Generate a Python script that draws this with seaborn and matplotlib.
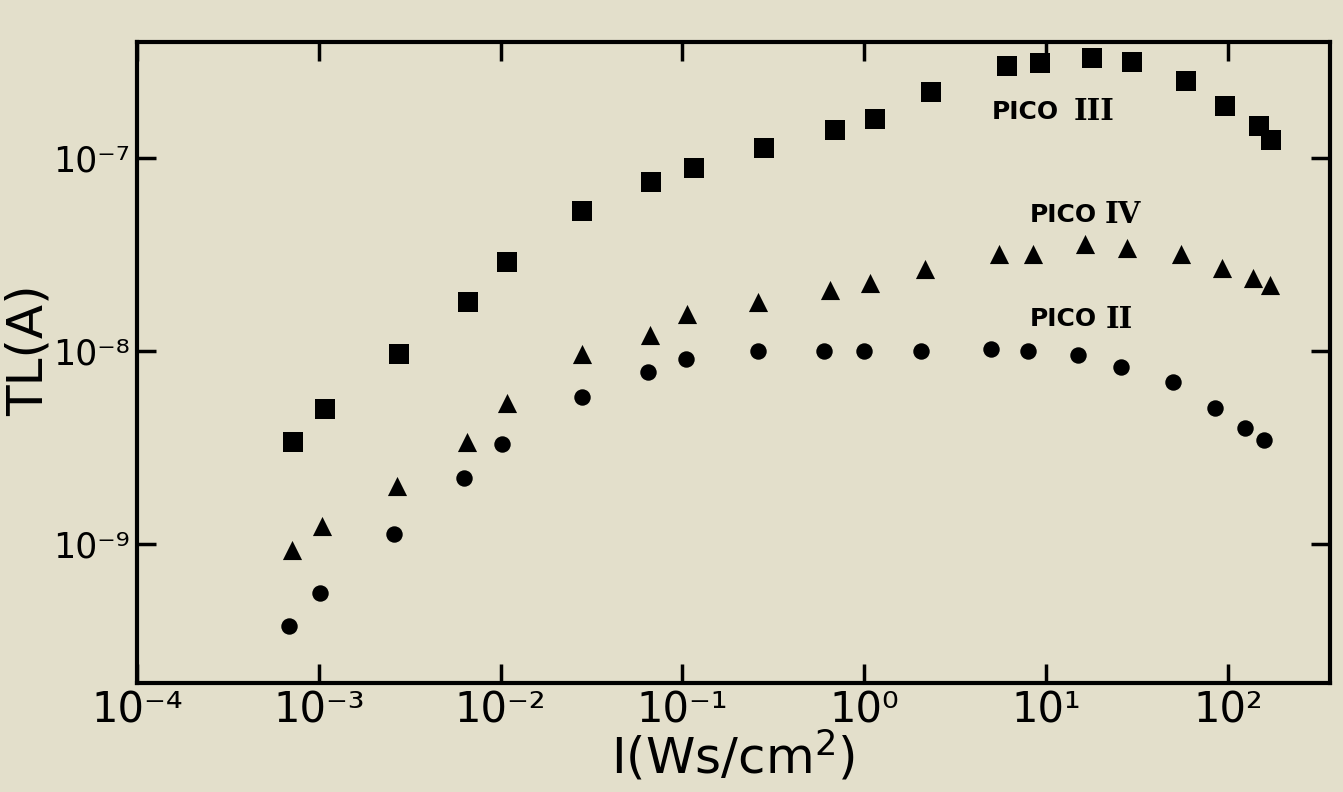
import matplotlib
matplotlib.use("Agg")
import matplotlib.pyplot as plt
import matplotlib.ticker as mticker
import seaborn as sns
import pandas as pd

# irradiance I (Ws/cm2) and TL current (A)
pico3_x = [7.2e-4, 1.08e-3, 2.76e-3, 6.6e-3, 1.09e-2, 2.8e-2, 6.7e-2, 0.116, 0.28, 0.69,
           1.15, 2.33, 6.1, 9.3, 17.9, 29.9, 59, 96, 149, 173]
pico3_y = [3.4e-9, 5.0e-9, 9.7e-9, 1.8e-8, 2.9e-8, 5.3e-8, 7.5e-8, 8.9e-8, 1.13e-7, 1.40e-7,
           1.59e-7, 2.2e-7, 3.0e-7, 3.1e-7, 3.3e-7, 3.15e-7, 2.5e-7, 1.86e-7, 1.46e-7, 1.24e-7]

pico4_x = [7.1e-4, 1.04e-3, 2.7e-3, 6.5e-3, 1.08e-2, 2.8e-2, 6.6e-2, 0.106, 0.26, 0.65,
           1.08, 2.15, 5.5, 8.5, 16.3, 28, 55, 93, 138, 170]
pico4_y = [9.3e-10, 1.24e-9, 2.0e-9, 3.4e-9, 5.4e-9, 9.7e-9, 1.21e-8, 1.55e-8, 1.8e-8, 2.07e-8,
           2.25e-8, 2.66e-8, 3.2e-8, 3.2e-8, 3.6e-8, 3.4e-8, 3.2e-8, 2.7e-8, 2.4e-8, 2.2e-8]

pico2_x = [6.9e-4, 1.01e-3, 2.6e-3, 6.3e-3, 1.02e-2, 2.8e-2, 6.5e-2, 0.105, 0.26, 0.6,
           1.0, 2.05, 5.0, 8.0, 15, 26, 50, 85, 125, 158]
pico2_y = [3.8e-10, 5.6e-10, 1.13e-9, 2.2e-9, 3.3e-9, 5.8e-9, 7.8e-9, 9.1e-9, 1.0e-8, 1.0e-8,
           1.0e-8, 1.0e-8, 1.03e-8, 1.0e-8, 9.5e-9, 8.3e-9, 6.9e-9, 5.1e-9, 4.0e-9, 3.45e-9]

x_ticks = [1e-4, 1e-3, 1e-2, 1e-1, 1, 10, 100]
x_ticklabels = ["10⁻⁴", "10⁻³", "10⁻²", "10⁻¹", "10⁰", "10¹", "10²"]
y_ticks = [1e-9, 1e-8, 1e-7]
y_ticklabels = ["10⁻⁹", "10⁻⁸", "10⁻⁷"]

paper = "#e3dfcb"

sns.set_style("ticks")
plt.rcParams['font.family'] = ['DejaVu Sans']
plt.rcParams['mathtext.fontset'] = 'dejavusans'

fig = plt.figure(figsize=(13.43, 7.92), dpi=100, facecolor=paper)
ax = fig.add_axes([0.102, 0.137, 0.888, 0.810])
ax.set_facecolor(paper)

df3 = pd.DataFrame({"I": pico3_x, "TL": pico3_y})
df4 = pd.DataFrame({"I": pico4_x, "TL": pico4_y})
df2 = pd.DataFrame({"I": pico2_x, "TL": pico2_y})

sns.scatterplot(data=df3, x="I", y="TL", marker="s", s=190, color="black", linewidth=0, ax=ax)
sns.scatterplot(data=df4, x="I", y="TL", marker="^", s=190, color="black", linewidth=0, ax=ax)
sns.scatterplot(data=df2, x="I", y="TL", marker="o", s=140, color="black", linewidth=0, ax=ax)

ax.set_xscale("log")
ax.set_yscale("log")
ax.set_xlim(1e-4, 10 ** 2.56)
ax.set_ylim(10 ** -9.72, 10 ** -6.40)

ax.xaxis.set_major_locator(mticker.FixedLocator(x_ticks))
ax.yaxis.set_major_locator(mticker.FixedLocator(y_ticks))
ax.xaxis.set_minor_locator(mticker.NullLocator())
ax.yaxis.set_minor_locator(mticker.NullLocator())
ax.set_xticklabels(x_ticklabels)
ax.set_yticklabels(y_ticklabels)

ax.tick_params(which="major", direction="in", length=14, width=2.5, color="black",
               labelcolor="black", top=True, right=True)
ax.tick_params(axis="x", pad=4, labelsize=30)
ax.tick_params(axis="y", pad=5, labelsize=25)

for sp in ax.spines.values():
    sp.set_linewidth(3)
    sp.set_color("black")
    sp.set_visible(True)

ax.set_xlabel("I(Ws/cm$^2$)", fontsize=36, color="black", labelpad=-2)
ax.set_ylabel("TL(A)", fontsize=36, color="black")
ax.yaxis.set_label_coords(-0.071, 0.52)

# curve labels
labels = [("PICO", "III", 0.717, 0.891, 0.785),
          ("PICO", "IV", 0.749, 0.731, 0.811),
          ("PICO", "II", 0.749, 0.568, 0.812)]
for word, num, xw, yt, xn in labels:
    ax.text(xw, yt, word, transform=ax.transAxes, fontsize=18, fontweight="bold",
            color="black", va="center", ha="left")
    ax.text(xn, yt, num, transform=ax.transAxes, fontsize=21, fontweight="bold",
            color="black", family="DejaVu Serif", va="center", ha="left")

fig.savefig("out.png", dpi=100, facecolor=paper)
